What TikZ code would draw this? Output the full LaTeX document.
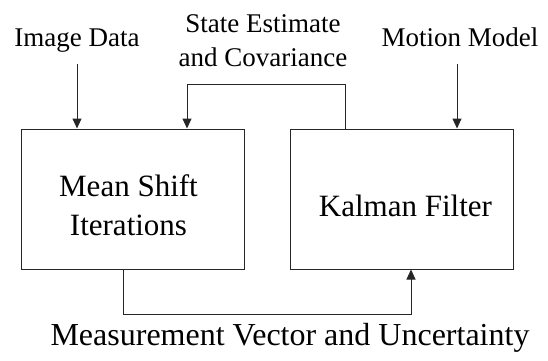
\documentclass[tikz,border=0pt]{standalone}
\usepackage{fontspec}
\setmainfont{Liberation Serif}
\usetikzlibrary{arrows.meta}
\begin{document}
\begin{tikzpicture}[x=1pt,y=1pt,
  block/.style={draw=black!85, line width=1pt, minimum width=223pt, minimum height=140pt, inner sep=0pt},
  blocktext/.style={align=center, font=\fontsize{31}{39}\selectfont},
  lbl/.style={align=center, font=\fontsize{27}{34}\selectfont, anchor=base},
  bigl/.style={font=\fontsize{32}{38}\selectfont, anchor=base},
  wire/.style={draw=black!85, line width=1pt},
  arr/.style={wire, -{Triangle[length=10pt,width=9pt]}}]
\useasboundingbox (0,0) rectangle (548,360);

% the two processing blocks
\node[block] (ms) at (132.5,161) {};
\node[block] (kf) at (402,161) {};
\node[blocktext] (mstext) at (128.5,155) {Mean Shift\\Iterations};
\node[blocktext] (kftext) at (405.5,154) {Kalman Filter};

% inputs from above
\node[lbl] (img) at (77,314) {Image Data};
\node[lbl] (mot) at (460,314) {Motion Model};
\coordinate (imgtop) at (77,296);
\coordinate (mottop) at (457,296);
\draw[arr] (imgtop) -- (imgtop |- ms.north);
\draw[arr] (mottop) -- (mottop |- kf.north);

% state feedback from the filter to the mean shift block
\node[lbl] (st1) at (263,328) {State Estimate};
\node[lbl] (st2) at (263,294) {and Covariance};
\coordinate (fbR) at (345,276);
\coordinate (fbL) at (187,276);
\draw[arr] (fbR |- kf.north) -- (fbR) -- (fbL) -- (fbL |- ms.north);

% measurement from the mean shift block to the filter
\coordinate (msL) at (123,46);
\coordinate (msR) at (411,46);
\draw[arr] (msL |- ms.south) -- (msL) -- (msR) -- (msR |- kf.south);
\node[bigl] (meas) at (290,15) {Measurement Vector and Uncertainty};
\end{tikzpicture}
\end{document}
